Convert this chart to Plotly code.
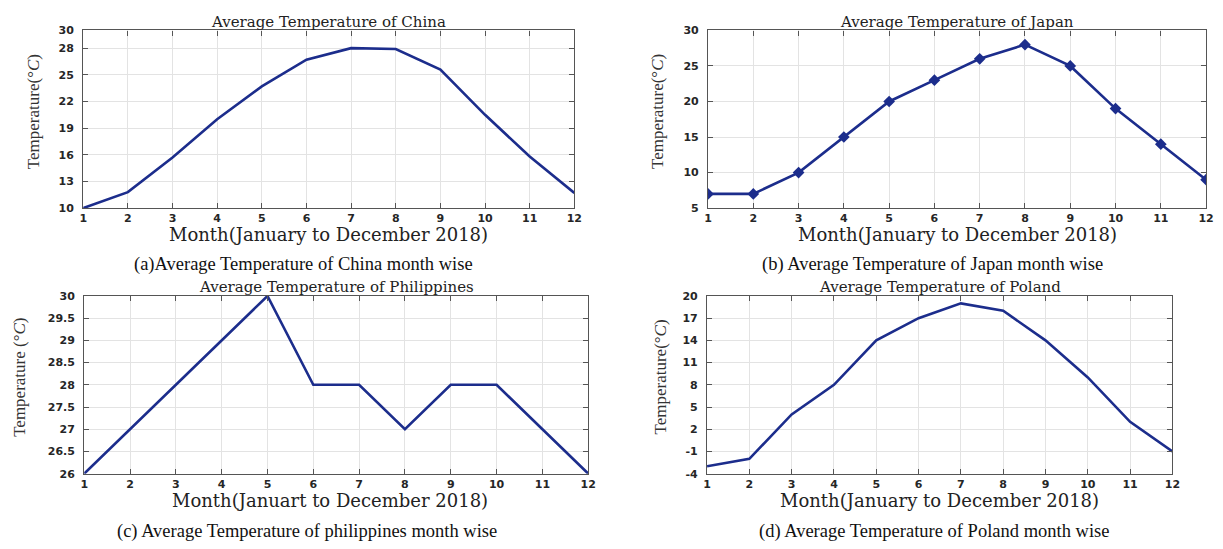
import plotly.graph_objects as go

W, H = 1223, 549

months = list(range(1, 13))
china = [10, 11.8, 15.7, 20, 23.7, 26.7, 28, 27.9, 25.6, 20.5, 15.8, 11.7]
japan = [7, 7, 10, 15, 20, 23, 26, 28, 25, 19, 14, 9]
philippines = [26, 27, 28, 29, 30, 28, 28, 27, 28, 28, 27, 26]
poland = [-3, -2, 4, 8, 14, 17, 19, 18, 14, 9, 3, -1]

china_ticks = [10, 13, 16, 19, 22, 25, 28, 30]
japan_ticks = [5, 10, 15, 20, 25, 30]
philippines_ticks = [26, 26.5, 27, 27.5, 28, 28.5, 29, 29.5, 30]
poland_ticks = [-4, -1, 2, 5, 8, 11, 14, 17, 20]

titles = ["Average Temperature of China", "Average Temperature of Japan",
          "Average Temperature of Philippines", "Average Temperature of Poland"]
xtitles = ["Month(January to December 2018)", "Month(January to December 2018)",
           "Month(Januart to December 2018)", "Month(January to December 2018)"]
ytitles = ["Temperature(°<i>C</i>)", "Temperature(°<i>C</i>)",
           "Temperature (°<i>C</i>)", "Temperature(°<i>C</i>)"]
captions = ["(a)Average Temperature of China month wise",
            "(b) Average Temperature of Japan month wise",
            "(c) Average Temperature of philippines month wise",
            "(d) Average Temperature of Poland month wise"]

LINE = "rgb(28,45,140)"
AXC = "#555555"
GRID = "#e3e3e3"

# plot boxes in pixels: left, right, top, bottom
boxes = [(80, 576, 25, 207), (711, 1214, 25, 207),
         (81, 590, 297, 479), (710, 1180, 297, 479)]
ytitle_x = [30, 660, 15, 662]
caption_xy = [(302, 265), (938, 265), (306, 538), (939, 538)]

def fx(x):
    return x / W

def fy(y):
    return 1 - y / H

def label(v):
    # plain hyphen for negatives, no trailing ".0"
    s = f"{v:g}"
    return s

series = [china, japan, philippines, poland]
yticks = [china_ticks, japan_ticks, philippines_ticks, poland_ticks]
yranges = [(10, 30), (5, 30), (26, 30), (-4, 20)]

fig = go.Figure()
annotations = []
tickfont = dict(family="DejaVu Sans", size=11, color="#262626", weight="bold")

for i, (vals, box) in enumerate(zip(series, boxes)):
    n = i + 1
    xa = "x" if n == 1 else f"x{n}"
    ya = "y" if n == 1 else f"y{n}"
    tr = dict(x=months, y=vals, xaxis=xa, yaxis=ya, mode="lines",
              line=dict(color=LINE, width=2.6), showlegend=False)
    if i == 1:
        tr["mode"] = "lines+markers"
        tr["marker"] = dict(symbol="diamond", size=9, color=LINE)
    fig.add_trace(go.Scatter(**tr))

    l, r, t, b = box
    axis_common = dict(showline=True, linecolor=AXC, linewidth=1.2, mirror="ticks",
                       ticks="inside", ticklen=5, tickcolor=AXC, tickwidth=1,
                       showgrid=True, gridcolor=GRID, gridwidth=1, zeroline=False,
                       tickfont=tickfont)
    fig.update_layout(**{
        ("xaxis" if n == 1 else f"xaxis{n}"): dict(
            domain=[fx(l), fx(r)], anchor=ya, range=[1, 12],
            tickvals=months, ticklabelstandoff=0, **axis_common),
        ("yaxis" if n == 1 else f"yaxis{n}"): dict(
            domain=[fy(b), fy(t)], anchor=xa, range=list(yranges[i]),
            tickvals=yticks[i], ticktext=[label(v) for v in yticks[i]],
            ticklabelstandoff=6, **axis_common),
    })

    cx = (l + r) / 2
    annotations.append(dict(text=titles[i], x=fx(cx), y=fy(t - 9), xref="paper", yref="paper",
                            showarrow=False, xanchor="center", yanchor="middle",
                            font=dict(family="DejaVu Serif", size=15, color="#222222")))
    annotations.append(dict(text=xtitles[i], x=fx(cx - (6 if i == 2 else 0)), y=fy(b + 27),
                            xref="paper", yref="paper", showarrow=False,
                            xanchor="center", yanchor="middle",
                            font=dict(family="DejaVu Serif", size=18, color="#222222")))
    annotations.append(dict(text=ytitles[i], x=fx(ytitle_x[i]), y=fy((t + b) / 2 - 8),
                            xref="paper", yref="paper", showarrow=False, textangle=-90,
                            xanchor="center", yanchor="middle",
                            font=dict(family="Liberation Serif", size=17, color="#333333")))
    annotations.append(dict(text=captions[i], x=fx(caption_xy[i][0]), y=fy(caption_xy[i][1]),
                            xref="paper", yref="paper", showarrow=False,
                            xanchor="center", yanchor="middle",
                            font=dict(family="Liberation Serif", size=18.5, color="#111111")))

fig.update_layout(width=W, height=H, autosize=False,
                  margin=dict(l=0, r=0, t=0, b=0),
                  paper_bgcolor="white", plot_bgcolor="white",
                  annotations=annotations)

fig.write_html("out.html")
